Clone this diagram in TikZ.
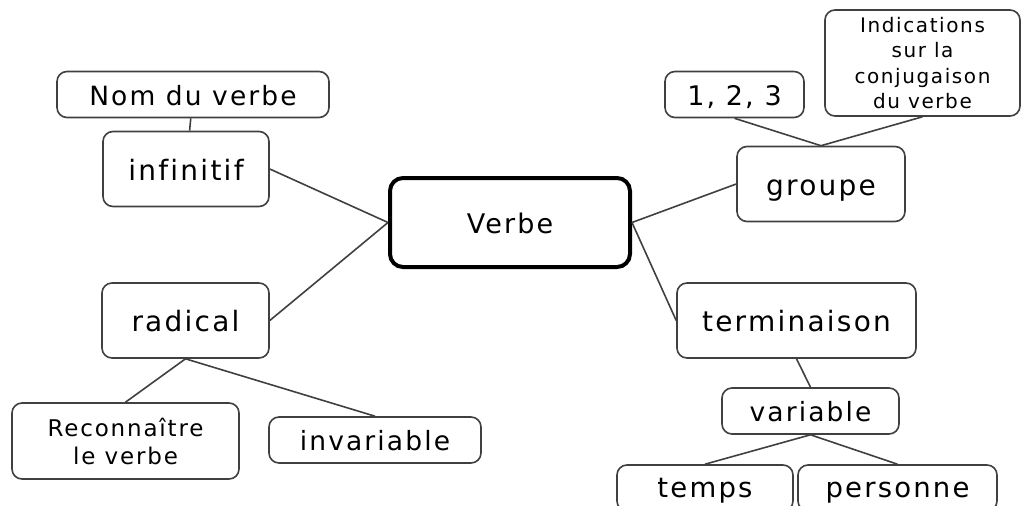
\documentclass[tikz,border=0pt]{standalone}
\usepackage{fontspec}
\setmainfont{DejaVu Sans}[LetterSpace=8,Ligatures=NoCommon]
\definecolor{trait}{HTML}{404040}

\begin{document}
\begin{tikzpicture}[x=1pt,y=-1pt,line width=1.6pt,draw=trait]
    \tikzstyle{bulle}=[rectangle,rounded corners=10pt,draw=trait,line width=1.6pt,fill=white,align=center,inner sep=0pt]
    \tikzstyle{centre}=[bulle,line width=4pt,draw=black,rounded corners=13pt,minimum width=240pt,minimum height=89pt,text height=21pt,text depth=0pt,font=\fontsize{27}{32}\selectfont]
    \tikzstyle{branche}=[bulle,minimum height=75pt,text height=22pt,text depth=0pt,font=\fontsize{28}{32}\selectfont]
    \tikzstyle{feuille}=[bulle,minimum height=46pt,text height=21pt,text depth=0pt,font=\fontsize{26.5}{30}\selectfont]
    \tikzstyle{note}=[bulle,font=\fontsize{23}{28}\selectfont]

    \useasboundingbox (0,0) rectangle (1021,506);

    % Draw the central node
    \node[centre] (verbe) at (510,222.5) {Verbe};

    % Draw the left branches
    \node[branche, minimum width=166pt] (infinitif) at (186,169) {infinitif};
    \node[feuille, minimum width=272pt] (nom) at (193,94.5) {Nom du verbe};
    \node[branche, minimum width=167pt] (radical) at (185.5,320.5) {radical};
    \node[note, minimum width=227pt, minimum height=76pt] (reconnaitre) at (125.5,441) {Reconnaître\\le verbe};
    \node[feuille, minimum width=212pt] (invariable) at (375,440) {invariable};

    % Draw the right branches
    \node[branche, minimum width=168pt] (groupe) at (821,184) {groupe};
    \node[feuille, minimum width=139pt, font=\fontsize{27}{30}\selectfont] (numeros) at (734.5,94.5) {1, 2, 3};
    \node[note, minimum width=195pt, minimum height=106pt, font=\fontsize{20}{25.5}\selectfont] (indications) at (922.5,63) {Indications\\sur la\\conjugaison\\du verbe};
    \node[branche, minimum width=239pt] (terminaison) at (796.5,320.5) {terminaison};
    \node[feuille, minimum width=177pt] (variable) at (810.5,411) {variable};
    \node[feuille, minimum width=176pt, text height=18pt, font=\fontsize{27.5}{30}\selectfont] (temps) at (705,488) {temps};
    \node[feuille, minimum width=199pt, text height=18pt, font=\fontsize{27.5}{30}\selectfont] (personne) at (897.5,488) {personne};

    % Connect every branch with its parent
    \foreach \source/\dest in {infinitif.east/verbe.west, radical.east/verbe.west,
        verbe.east/groupe.west, verbe.east/terminaison.west,
        nom/infinitif, radical.south/reconnaitre.north, radical.south/invariable.north,
        groupe.north/numeros.south, groupe.north/indications.south,
        terminaison.south/variable.north, variable.south/temps.north,
        variable.south/personne.north}
        \path (\source) edge (\dest);
\end{tikzpicture}
\end{document}
